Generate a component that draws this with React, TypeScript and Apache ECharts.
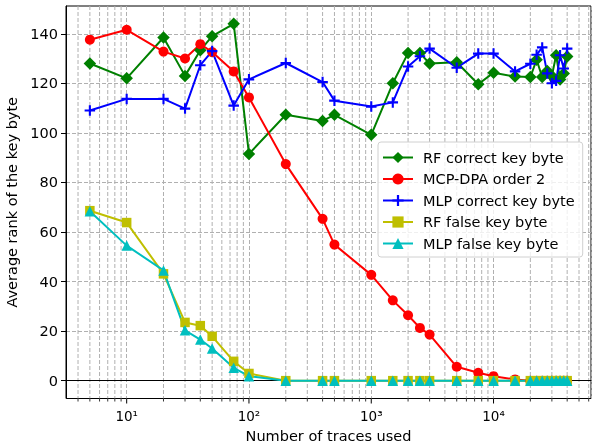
import React, { useEffect, useRef } from 'react';
import * as echarts from 'echarts';

const traces = [5, 10, 20, 30, 40, 50, 75, 100, 200, 400, 500, 1000, 1500, 2000, 2500, 3000, 5000, 7500, 10000, 15000, 20000, 22500, 25000, 27500, 30000, 32500, 35000, 37500, 40000];
const rfCorrect = [128, 122, 138.5, 123, 133.3, 139, 144, 91.5, 107.3, 104.8, 107.3, 99.2, 120, 132.2, 132.2, 128, 128.5, 119.6, 124.3, 122.7, 122.5, 129.5, 122.5, 125, 123, 131.3, 121.5, 124, 130.8];
const mcpDpa = [137.6, 141.6, 132.8, 130, 135.8, 132.6, 124.8, 114.3, 87.4, 65.3, 54.9, 42.7, 32.4, 26.4, 21.3, 18.6, 5.6, 3.2, 1.8, 0.5, 0, 0, 0, 0, 0, 0, 0, 0, 0];
const mlpCorrect = [109, 113.7, 113.7, 109.8, 127.3, 133, 111, 121.6, 128.2, 120.5, 113, 110.6, 112.3, 126.8, 130.9, 134, 126.3, 132, 132, 124.8, 127.9, 131.5, 134.5, 124, 120, 121, 131.3, 126, 134];
const rfFalse = [68.6, 63.8, 43.1, 23.5, 22.2, 17.9, 7.8, 2.9, 0, 0, 0, 0, 0, 0, 0, 0, 0, 0, 0, 0, 0, 0, 0, 0, 0, 0, 0, 0, 0];
const mlpFalse = [68.4, 54.5, 44.5, 20.3, 16.6, 13, 5.2, 1.8, 0, 0, 0, 0, 0, 0, 0, 0, 0, 0, 0, 0, 0, 0, 0, 0, 0, 0, 0, 0, 0];

const seriesNames = ['RF correct key byte', 'MCP-DPA order 2', 'MLP correct key byte', 'RF false key byte', 'MLP false key byte'];
const yTicks = [0, 20, 40, 60, 80, 100, 120, 140];
const xMajor = [10, 100, 1000, 10000];
const xMajorLabels: Record<number, string> = { 10: '10¹', 100: '10²', 1000: '10³', 10000: '10⁴' };
const xMinor = [4, 5, 6, 7, 8, 9, 20, 30, 40, 50, 60, 70, 80, 90, 200, 300, 400, 500, 600, 700, 800, 900, 2000, 3000, 4000, 5000, 6000, 7000, 8000, 9000, 20000, 30000, 40000, 50000, 60000];
const X_MIN = 3.19;
const X_MAX = 62660;
const Y_MIN = -7.2;
const Y_MAX = 151.2;

const FONT = 'DejaVu Sans';
const GRID_COLOR = '#b0b0b0';
const PLUS = 'path://M-1,-0.2 L1,-0.2 L1,0.2 L-1,0.2 Z M-0.2,-1 L0.2,-1 L0.2,1 L-0.2,1 Z';

function mk(name: string, values: number[], color: string, symbol: string, size: number) {
  return {
    name,
    type: 'line',
    data: traces.map((x, i) => [x, values[i]]),
    symbol,
    symbolSize: size,
    showAllSymbol: true,
    lineStyle: { width: 2, color },
    itemStyle: { color, borderWidth: 0 },
    emphasis: { disabled: true },
    z: 2,
  };
}

export default function App() {
  const ref = useRef<HTMLDivElement>(null);
  useEffect(() => {
    if (!ref.current) return;
    const chart = echarts.init(ref.current, null, { renderer: 'svg' });
    chart.setOption({
      animation: false,
      grid: {
        left: 66, right: 1, top: 6, bottom: 48.5,
        show: true, borderColor: '#000', borderWidth: 1, backgroundColor: 'transparent',
        outerBoundsMode: 'none',
      },
      legend: {
        orient: 'vertical', left: 378, top: 142,
        itemWidth: 30, itemHeight: 14, itemGap: 6.5,
        padding: [8, 8, 6, 4],
        backgroundColor: 'rgba(255,255,255,0.8)',
        borderColor: '#d0d0d0', borderWidth: 1, borderRadius: 3,
        textStyle: { fontSize: 14.5, color: '#000', fontFamily: FONT, padding: [0, 0, 0, 5] },
        data: seriesNames,
      },
      xAxis: {
        type: 'log', logBase: 10, min: X_MIN, max: X_MAX,
        axisLine: { show: true, lineStyle: { color: '#000', width: 1 } },
        axisTick: { show: false },
        axisLabel: {
          color: '#000', fontSize: 13.5, fontFamily: FONT, margin: 10,
          formatter: (v: number) => xMajorLabels[Math.round(v)] && Math.abs(Math.round(v) - v) < 1e-6 ? xMajorLabels[Math.round(v)] : '',
        },
        splitLine: { show: true, lineStyle: { color: GRID_COLOR, width: 1, type: [4, 2] } },
        name: 'Number of traces used', nameLocation: 'middle', nameGap: 29.5,
        nameTextStyle: { fontSize: 14.5, color: '#000', fontFamily: FONT },
      },
      yAxis: {
        type: 'value', min: Y_MIN, max: Y_MAX, splitNumber: 8,
        axisLine: { show: true, lineStyle: { color: '#000', width: 1 } },
        axisTick: { show: true, length: 5, customValues: yTicks, lineStyle: { color: '#000', width: 1 } },
        axisLabel: { customValues: yTicks, color: '#000', fontSize: 14.5, fontFamily: FONT, margin: 8 },
        splitLine: { show: true, customValues: yTicks, lineStyle: { color: GRID_COLOR, width: 1, type: [4, 2] } },
        name: 'Average rank of the key byte', nameLocation: 'middle', nameGap: 42.5, nameRotate: 90,
        nameTextStyle: { fontSize: 14.5, color: '#000', fontFamily: FONT },
      },
      series: [
        mk(seriesNames[0], rfCorrect, '#008000', 'diamond', 12.5),
        mk(seriesNames[1], mcpDpa, '#ff0000', 'circle', 10),
        mk(seriesNames[2], mlpCorrect, '#0000ff', PLUS, 10.5),
        mk(seriesNames[3], rfFalse, '#bfbf00', 'rect', 9.5),
        mk(seriesNames[4], mlpFalse, '#00bfbf', 'triangle', 10.5),
      ],
    });
    const yTop = chart.convertToPixel({ yAxisIndex: 0 }, Y_MAX) as number;
    const yBot = chart.convertToPixel({ yAxisIndex: 0 }, Y_MIN) as number;
    const els: any[] = [];
    xMinor.forEach((v) => {
      const px = chart.convertToPixel({ xAxisIndex: 0 }, v) as number;
      els.push({ type: 'line', silent: true, z: 0, shape: { x1: px, y1: yTop, x2: px, y2: yBot }, style: { stroke: GRID_COLOR, lineWidth: 1, lineDash: [4, 2] } });
      els.push({ type: 'line', silent: true, z: 0, shape: { x1: px, y1: yBot, x2: px, y2: yBot + 3 }, style: { stroke: '#000', lineWidth: 0.8 } });
    });
    xMajor.forEach((v) => {
      const px = chart.convertToPixel({ xAxisIndex: 0 }, v) as number;
      els.push({ type: 'line', silent: true, z: 0, shape: { x1: px, y1: yBot, x2: px, y2: yBot + 5 }, style: { stroke: '#000', lineWidth: 1 } });
    });
    chart.setOption({ graphic: { elements: els } });
    return () => chart.dispose();
  }, []);
  return <div ref={ref} style={{ position: 'fixed', left: 0, top: 0, width: 592, height: 447 }} />;
}
